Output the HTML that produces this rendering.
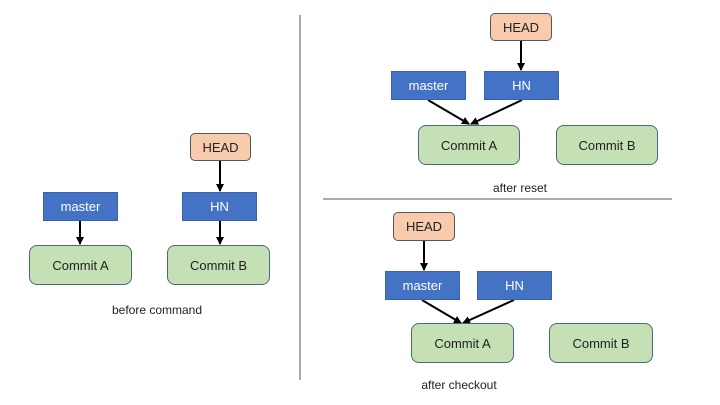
<!DOCTYPE html><html><head><style>
body{margin:0;width:720px;height:405px;background:#fff;position:relative;font-family:"Liberation Sans",sans-serif;overflow:hidden}
.b{position:absolute;box-sizing:border-box;display:flex;align-items:center;justify-content:center;font-size:13px;color:#222}
.h{background:#f8cbad;border:1px solid #555;border-radius:5px}
.m{background:#4472c4;border:1px solid #3a62a8;color:#fff}
.c{background:#c5e0b4;border:1px solid #4a6a7a;border-radius:8px}
.t{position:absolute;font-size:12px;color:#222;transform:translateX(-50%)}
svg{position:absolute;left:0;top:0}
</style></head><body>
<svg width="720" height="405"><defs><marker id="a" markerWidth="8" markerHeight="8" refX="7" refY="4" orient="auto" markerUnits="userSpaceOnUse"><path d="M0,0L8,4L0,8z" fill="#000"/></marker></defs>
<g stroke="#000" stroke-width="2" marker-end="url(#a)">
<line x1="220" y1="161" x2="220" y2="191"/><line x1="80" y1="221" x2="80" y2="244"/><line x1="220" y1="221" x2="220" y2="244"/>
<line x1="521" y1="41" x2="521" y2="70"/><line x1="428" y1="100" x2="469" y2="124"/><line x1="522" y1="100" x2="471" y2="124"/>
<line x1="424" y1="241" x2="424" y2="270"/><line x1="422" y1="300" x2="461" y2="323"/><line x1="514" y1="300" x2="463" y2="323"/>
</g>
<line x1="300" y1="15" x2="300" y2="380" stroke="#555" stroke-width="1"/>
<line x1="323" y1="199" x2="672" y2="199" stroke="#555" stroke-width="1"/>
</svg>
<div class="b h" style="left:190px;top:133px;width:61px;height:28px">HEAD</div>
<div class="b m" style="left:43px;top:192px;width:75px;height:29px">master</div>
<div class="b m" style="left:182px;top:192px;width:75px;height:29px">HN</div>
<div class="b c" style="left:29px;top:245px;width:103px;height:40px">Commit A</div>
<div class="b c" style="left:167px;top:245px;width:103px;height:40px">Commit B</div>
<div class="t" style="left:157px;top:303px">before command</div>
<div class="b h" style="left:490px;top:13px;width:62px;height:28px">HEAD</div>
<div class="b m" style="left:391px;top:71px;width:75px;height:29px">master</div>
<div class="b m" style="left:484px;top:71px;width:75px;height:29px">HN</div>
<div class="b c" style="left:418px;top:125px;width:102px;height:40px">Commit A</div>
<div class="b c" style="left:556px;top:125px;width:102px;height:40px">Commit B</div>
<div class="t" style="left:520px;top:181px">after reset</div>
<div class="b h" style="left:393px;top:212px;width:62px;height:29px">HEAD</div>
<div class="b m" style="left:385px;top:271px;width:75px;height:29px">master</div>
<div class="b m" style="left:477px;top:271px;width:75px;height:29px">HN</div>
<div class="b c" style="left:411px;top:323px;width:103px;height:40px">Commit A</div>
<div class="b c" style="left:549px;top:323px;width:104px;height:40px">Commit B</div>
<div class="t" style="left:459px;top:378px">after checkout</div>
</body></html>
